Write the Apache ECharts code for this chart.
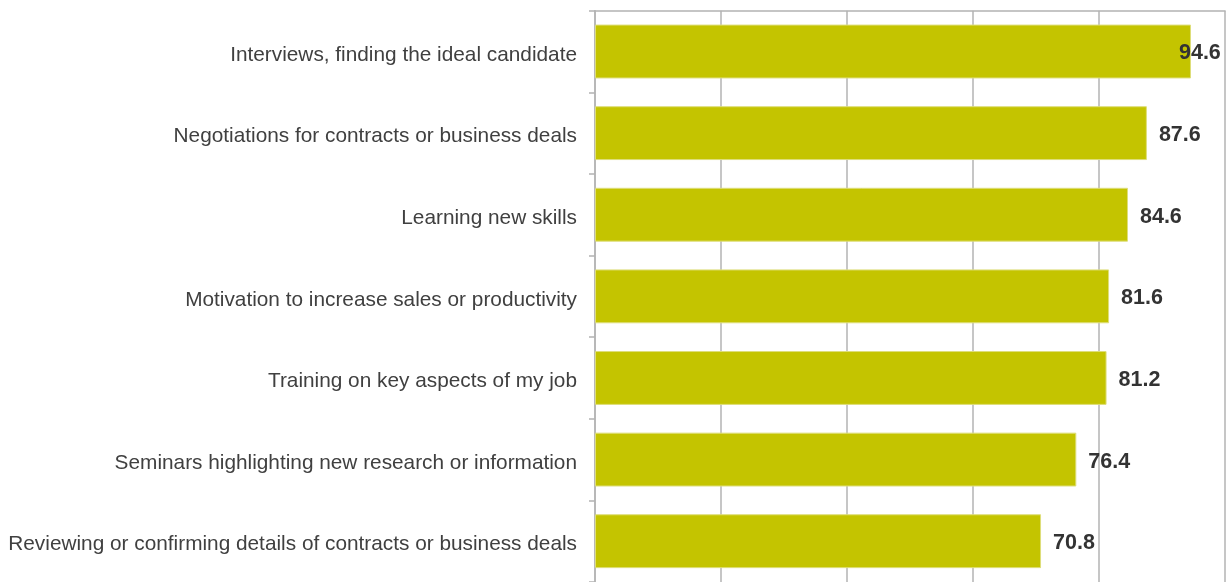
<!DOCTYPE html>
<html>
<head>
<meta charset="utf-8">
<script src="https://cdn.jsdelivr.net/npm/echarts@6/dist/echarts.min.js"></script>
<style>
  html, body { margin: 0; padding: 0; background: #ffffff; }
  #chart { width: 1230px; height: 582px; }
</style>
</head>
<body>
<div id="chart"></div>
<script>
const categories = [
  "Interviews, finding the ideal candidate",
  "Negotiations for contracts or business deals",
  "Learning new skills",
  "Motivation to increase sales or productivity",
  "Training on key aspects of my job",
  "Seminars highlighting new research or information",
  "Reviewing or confirming details of contracts or business deals"
];
const values = [94.6, 87.6, 84.6, 81.6, 81.2, 76.4, 70.8];
const xTicks = [0, 20, 40, 60, 80, 100];

const chart = echarts.init(document.getElementById('chart'));
const seriesData = values.map((v, i) => {
  const item = { value: v };
  if (i === 0) {
    item.label = { offset: [-24, 2] };
  }
  return item;
});

chart.setOption({
  animation: false,
  backgroundColor: '#ffffff',
  grid: { left: 595, right: 5, top: 10.7, height: 574, containLabel: false },
  xAxis: {
    type: 'value',
    position: 'top',
    min: xTicks[0],
    max: xTicks[xTicks.length - 1],
    interval: 20,
    axisLine: { show: true, lineStyle: { color: '#b3b3b3', width: 1.5 } },
    axisTick: { show: false },
    axisLabel: { show: false },
    splitLine: { show: true, lineStyle: { color: '#b3b3b3', width: 1.5 } }
  },
  yAxis: {
    type: 'category',
    data: categories,
    inverse: true,
    axisLine: { show: true, lineStyle: { color: '#b3b3b3', width: 1.5 } },
    axisTick: { show: true, inside: false, length: 6, lineStyle: { color: '#b3b3b3', width: 1.5 } },
    axisLabel: {
      margin: 18,
      color: '#404040',
      fontFamily: 'Liberation Sans, Arial, sans-serif',
      fontSize: 20.8,
      formatter: v => '{a|' + v + '}',
      rich: {
        a: {
          color: '#404040',
          fontFamily: 'Liberation Sans, Arial, sans-serif',
          fontSize: 20.8,
          padding: [7, 0, 0, 0]
        }
      }
    },
    splitLine: { show: false }
  },
  series: [{
    type: 'bar',
    data: seriesData,
    barCategoryGap: '34%',
    itemStyle: { color: '#C4C400', borderColor: '#DEDE7A', borderWidth: 1 },
    label: {
      show: true,
      position: 'right',
      distance: 12,
      offset: [0, 2],
      color: '#333333',
      fontWeight: 'bold',
      fontFamily: 'Liberation Sans, Arial, sans-serif',
      fontSize: 21.5,
      formatter: p => p.value.toFixed(1)
    }
  }]
});
</script>
</body>
</html>
